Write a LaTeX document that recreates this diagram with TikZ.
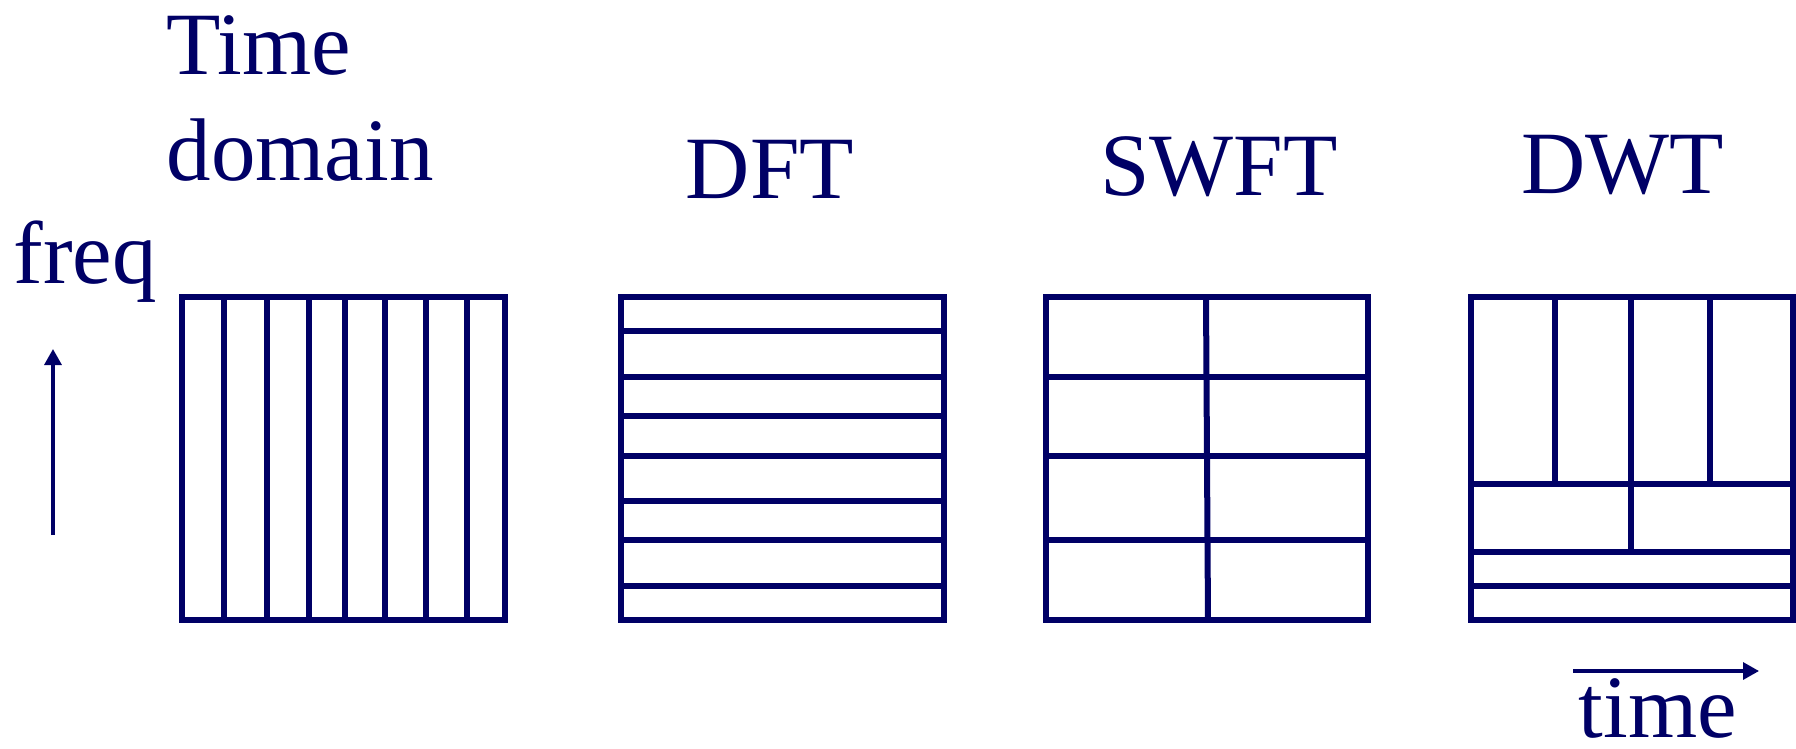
\documentclass[tikz,border=0pt]{standalone}
\usepackage{fontspec}
\setmainfont{Liberation Serif}
\usetikzlibrary{arrows.meta,positioning}
\definecolor{navyink}{RGB}{0,0,102}
\tikzset{
  tfbox/.style={line width=0.06cm,draw=navyink,line join=miter},
  tfcut/.style={line width=0.06cm,draw=navyink},
  axisarrow/.style={-{Triangle[length=0.16cm,width=0.17cm]},line width=0.033cm,draw=navyink},
  lbl/.style={font=\fontsize{25.3}{30}\selectfont,text=navyink,inner sep=0pt}
}
\begin{document}
\begin{tikzpicture}[x=0.01cm,y=-0.01cm]
  \useasboundingbox (0,0) rectangle (1796,748);
  % labels
  \node[lbl,anchor=base west] (timelbl) at (166,74){Time};
  \node[lbl,anchor=base west] (domainlbl) at (166,180){domain};
  \node[lbl,anchor=base west] (freqlbl) at (13,283){freq};
  \node[lbl,anchor=base] (dftlbl) at (770,198){DFT};
  \node[lbl,anchor=base] (swftlbl) at (1219,195){SWFT};
  \node[lbl,anchor=base] (dwtlbl) at (1623,193){DWT};
  \node[lbl,anchor=base] (timeaxlbl) at (1658,737){time};
  % axes
  \coordinate (freqtail) at (53,535);
  \coordinate (freqtip) at (53,349);
  \draw[axisarrow] (freqtail)--(freqtip);
  \coordinate (timetail) at (1573,671);
  \coordinate (timetip) at (1759,671);
  \draw[axisarrow] (timetail)--(timetip);
  % time domain
  \draw[tfbox] (182,297) rectangle (505,620);
  \foreach \x in {224,267,309,345,385,426,467}{\draw[tfcut] (\x,297)--(\x,620);}
  % DFT
  \draw[tfbox] (621,297) rectangle (944,620);
  \foreach \y in {331,377,416,456,501,540,586}{\draw[tfcut] (621,\y)--(944,\y);}
  % SWFT
  \draw[tfbox] (1046,297) rectangle (1368,620);
  \foreach \y in {377,456,540}{\draw[tfcut] (1046,\y)--(1368,\y);}
  \draw[tfcut] (1206,297)--(1208,620);
  % DWT
  \draw[tfbox] (1471,297) rectangle (1793,620);
  \foreach \y in {484,552,586}{\draw[tfcut] (1471,\y)--(1793,\y);}
  \foreach \x in {1555,1631,1710}{\draw[tfcut] (\x,297)--(\x,484);}
  \draw[tfcut] (1631,484)--(1631,552);
\end{tikzpicture}
\end{document}
